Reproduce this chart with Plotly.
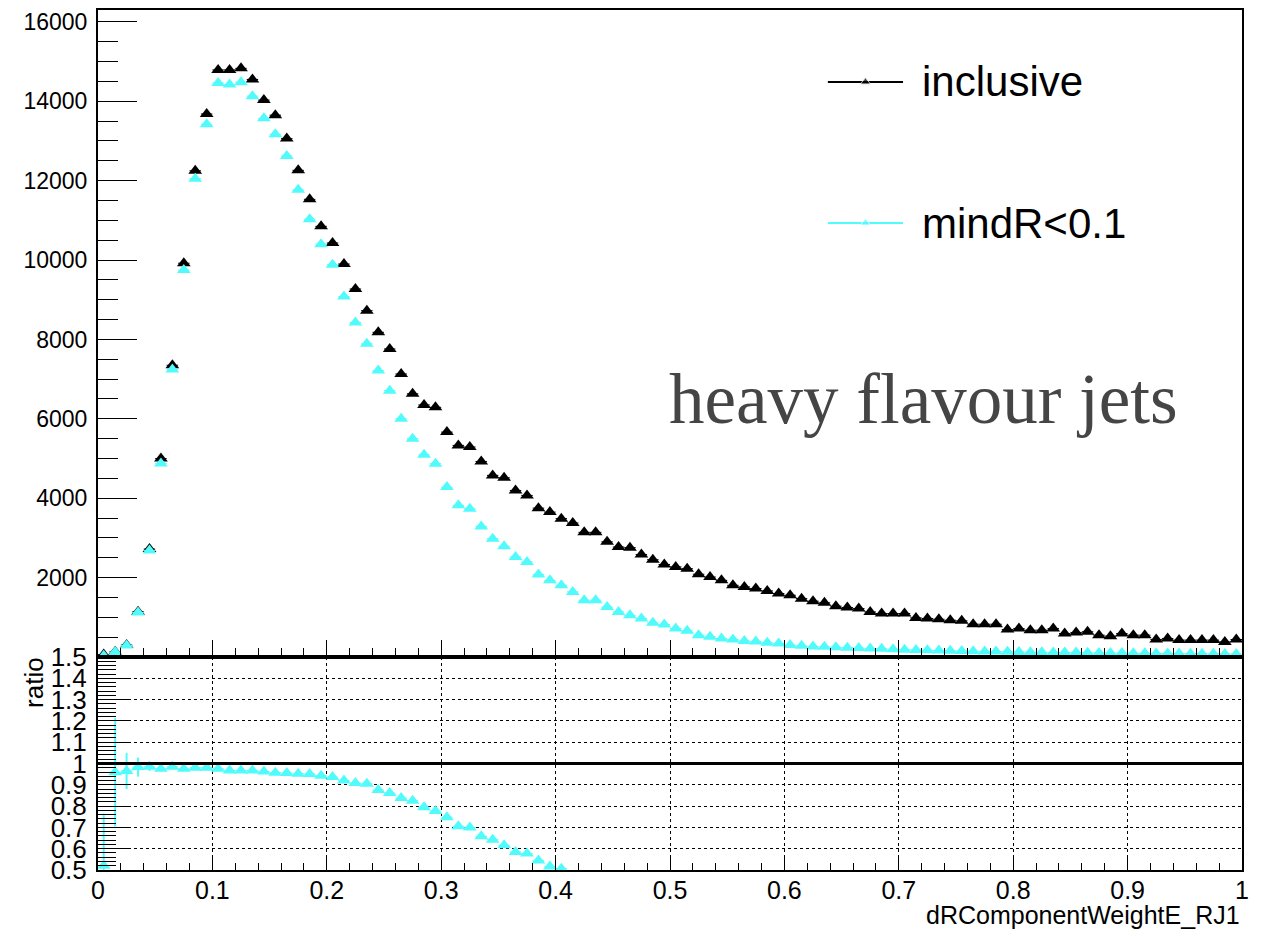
import plotly.graph_objects as go

# ---------------- data ----------------
BIN_LOW = 0.0
BIN_WIDTH = 0.01
N_BINS = 100

inclusive = [60, 130, 300, 1140, 2720, 5000, 7350, 9920, 12250, 13680,
             14790, 14790, 14830, 14550, 14030, 13650, 13060, 12260, 11530, 10850,
             10430, 9900, 9270, 8725, 8180, 7760, 7130, 6630, 6350, 6290,
             5665, 5330, 5290, 4925, 4575, 4515, 4195, 4070, 3750, 3650,
             3485, 3375, 3140, 3140, 2900, 2770, 2755, 2580, 2450, 2330,
             2270, 2225, 2085, 2015, 1930, 1805, 1765, 1725, 1665, 1600,
             1555, 1470, 1405, 1365, 1280, 1245, 1220, 1135, 1095, 1095,
             1095, 985, 970, 950, 925, 910, 825, 825, 825, 690,
             715, 675, 675, 715, 590, 615, 635, 550, 525, 590,
             550, 550, 440, 465, 425, 425, 425, 425, 380, 440]

mindr = [31, 125, 290, 1120, 2680, 4875, 7240, 9750, 12050, 13420,
         14460, 14420, 14480, 14130, 13570, 13170, 12620, 11770, 11030, 10400,
         9880, 9080, 8430, 7890, 7215, 6710, 6000, 5500, 5095, 4870,
         4280, 3820, 3735, 3290, 2980, 2790, 2520, 2395, 2075, 1930,
         1805, 1640, 1430, 1430, 1260, 1135, 1050, 970, 860, 820,
         715, 660, 550, 510, 465, 440, 405, 390, 360, 340,
         300, 280, 265, 255, 245, 235, 225, 215, 205, 195,
         185, 175, 170, 165, 155, 150, 145, 140, 135, 130,
         125, 120, 118, 115, 112, 110, 105, 102, 100, 98,
         95, 92, 90, 88, 86, 84, 82, 80, 78, 76]

# ratio mindR<0.1 / inclusive, as drawn in the lower pad (points below 0.5 are off-scale)
ratio = [0.52, 0.959, 0.965, 0.983, 0.985, 0.975, 0.985, 0.975, 0.98, 0.98,
         0.975, 0.967, 0.967, 0.967, 0.962, 0.957, 0.955, 0.952, 0.951, 0.943,
         0.936, 0.92, 0.908, 0.905, 0.875, 0.861, 0.838, 0.825, 0.795, 0.777,
         0.748, 0.705, 0.699, 0.658, 0.642, 0.616, 0.584, 0.577, 0.545, 0.517,
         0.506]
ratio_err = [0.245, 0.255, 0.085, 0.045, 0.02, 0.012, 0.01, 0.008, 0.008, 0.008,
             0.008, 0.008, 0.008, 0.008, 0.008, 0.008, 0.008, 0.008, 0.008, 0.008,
             0.008, 0.008, 0.008, 0.008, 0.008, 0.008, 0.008, 0.008, 0.008, 0.008,
             0.008, 0.008, 0.008, 0.008, 0.008, 0.008, 0.008, 0.008, 0.008, 0.008,
             0.008]

upper_ticks = [2000, 4000, 6000, 8000, 10000, 12000, 14000, 16000]
ratio_ticks = [0.5, 0.6, 0.7, 0.8, 0.9, 1.0, 1.1, 1.2, 1.3, 1.4, 1.5]
ratio_tick_text = ["0.5", "0.6", "0.7", "0.8", "0.9", "1", "1.1", "1.2", "1.3", "1.4", "1.5"]
RATIO_REF = 1.0
UPPER_MAX = 16300

series_names = ["inclusive", "mindR<0.1"]

# ---------------- style ----------------
BLACK = "#000000"
CYAN = "#52FBFB"
SANS = "Liberation Sans, Arial, sans-serif"
SERIF = "Liberation Serif, Times New Roman, serif"
MSIZE = 12
HALF = BIN_WIDTH / 2

centers = [BIN_LOW + (i + 0.5) * BIN_WIDTH for i in range(N_BINS)]
ratio_x = centers[:len(ratio)]

fig = go.Figure()

def err_x(color):
    return dict(type="constant", value=HALF, width=0, thickness=1, color=color)

fig.add_trace(go.Scatter(x=centers, y=inclusive, mode="markers", name=series_names[0],
                         marker=dict(symbol="triangle-up", size=MSIZE, color=BLACK),
                         error_x=err_x(BLACK), xaxis="x", yaxis="y", showlegend=False))
fig.add_trace(go.Scatter(x=centers, y=mindr, mode="markers", name=series_names[1],
                         marker=dict(symbol="triangle-up", size=MSIZE, color=CYAN),
                         error_x=err_x(CYAN), xaxis="x", yaxis="y", showlegend=False))

fig.add_trace(go.Scatter(x=ratio_x, y=ratio, mode="markers", name="ratio",
                         marker=dict(symbol="triangle-up", size=MSIZE, color=CYAN),
                         error_x=err_x(CYAN),
                         error_y=dict(type="data", array=ratio_err, width=0, thickness=2, color=CYAN),
                         xaxis="x2", yaxis="y2", showlegend=False))

# reference line at ratio = 1
fig.add_shape(type="line", xref="x2 domain", yref="y2", x0=0, x1=1, y0=RATIO_REF, y1=RATIO_REF,
              line=dict(color=BLACK, width=3), layer="above")

# ---------------- manual ROOT-style legend ----------------
LEG_X0, LEG_X1 = 0.638, 0.7037
LEG_Y = [0.8887, 0.6708]          # in upper-pad fraction
LEG_TEXT_Y = [0.9163, 0.7523]     # in paper fraction
LEG_TEXT_X = 0.7185
for name, col, ly, ty in zip(series_names, [BLACK, CYAN], LEG_Y, LEG_TEXT_Y):
    fig.add_trace(go.Scatter(x=[LEG_X0, (LEG_X0 + LEG_X1) / 2, LEG_X1], y=[ly, ly, ly],
                             mode="lines+markers", line=dict(color=col, width=2),
                             marker=dict(symbol="triangle-up", size=[0, 9, 0], color=col),
                             xaxis="x3", yaxis="y3", showlegend=False, hoverinfo="skip"))
    fig.add_annotation(text=name, xref="paper", yref="paper", x=LEG_TEXT_X, y=ty,
                       xanchor="left", yanchor="middle", showarrow=False,
                       font=dict(family=SANS, size=42, color=BLACK))

# text labels
fig.add_annotation(text="heavy flavour jets", xref="paper", yref="paper", x=0.9458, y=0.548,
                   xanchor="right", yanchor="middle", showarrow=False,
                   font=dict(family=SERIF, size=71, color="#454545"))
fig.add_annotation(text="dRComponentWeightE_RJ1", xref="paper", yref="paper", x=1.0, y=-0.052,
                   xanchor="right", yanchor="middle", showarrow=False,
                   font=dict(family=SANS, size=25, color=BLACK))
fig.add_annotation(text="ratio", xref="paper", yref="paper", x=-0.056, y=0.2186,
                   xanchor="center", yanchor="middle", textangle=-90, showarrow=False,
                   font=dict(family=SANS, size=26, color=BLACK))

SPLIT = 0.2477
axis_common = dict(showline=True, linecolor=BLACK, linewidth=2, mirror=True, automargin=False,
                   zeroline=False, ticks="inside", tickcolor=BLACK, tickwidth=1)

fig.update_layout(
    width=1263, height=935,
    margin=dict(l=98, r=21, t=10, b=65, autoexpand=False),
    paper_bgcolor="white", plot_bgcolor="white",
    showlegend=False,
    font=dict(family=SANS, color=BLACK),
    xaxis=dict(domain=[0, 1], anchor="y", range=[0, 1], tickmode="linear", tick0=0, dtick=0.1,
               ticklen=17, showticklabels=False, showgrid=False,
               minor=dict(tickmode="linear", tick0=0, dtick=0.02, ticks="inside", ticklen=9,
                          tickcolor=BLACK, tickwidth=1, showgrid=False),
               **axis_common),
    yaxis=dict(domain=[SPLIT, 1], anchor="x", range=[0, UPPER_MAX], tickmode="array",
               tickvals=upper_ticks, ticktext=[str(v) for v in upper_ticks],
               ticklen=39, showgrid=False, tickfont=dict(size=23, family=SANS),
               ticklabelstandoff=4,
               minor=dict(tickmode="linear", tick0=0, dtick=500, ticks="inside", ticklen=20,
                          tickcolor=BLACK, tickwidth=1, showgrid=False),
               **axis_common),
    xaxis2=dict(domain=[0, 1], anchor="y2", range=[0, 1], tickmode="linear", tick0=0, dtick=0.1,
                ticklen=13, showgrid=True, gridcolor=BLACK, gridwidth=1, griddash="dot",
                tickfont=dict(size=25, family=SANS), ticklabelstandoff=-3,
                minor=dict(tickmode="linear", tick0=0, dtick=0.02, ticks="inside", ticklen=7,
                           tickcolor=BLACK, tickwidth=1, showgrid=False),
                **axis_common),
    yaxis2=dict(domain=[0, SPLIT], anchor="x2", range=[0.5, 1.5], tickmode="array",
                tickvals=ratio_ticks, ticktext=ratio_tick_text,
                ticklen=33, showgrid=True, gridcolor=BLACK, gridwidth=1, griddash="dot",
                tickfont=dict(size=26, family=SANS), ticklabelstandoff=4,
                minor=dict(tickmode="linear", tick0=0.5, dtick=0.02, ticks="inside", ticklen=18,
                           tickcolor=BLACK, tickwidth=1, showgrid=False),
                **axis_common),
    xaxis3=dict(overlaying="x", anchor="y3", range=[0, 1], visible=False),
    yaxis3=dict(overlaying="y", anchor="x3", range=[0, 1], visible=False),
)

fig.write_html("out.html")
